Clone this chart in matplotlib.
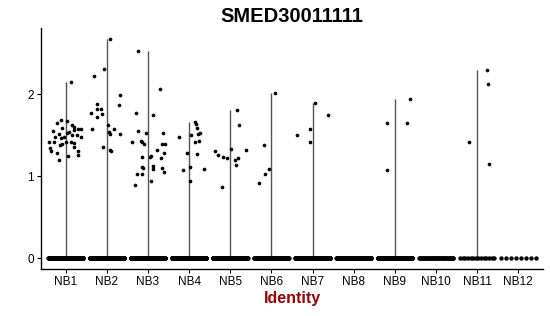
import matplotlib
matplotlib.use("Agg")
import matplotlib.pyplot as plt
import numpy as np

plt.rcParams['font.family'] = ['Liberation Sans', 'DejaVu Sans']

# Identities on the x axis
grupos = ['NB1', 'NB2', 'NB3', 'NB4', 'NB5', 'NB6', 'NB7', 'NB8', 'NB9', 'NB10', 'NB11', 'NB12']

# Expression values > 0, per identity
valores = {
    'NB1': [2.15, 1.68, 1.67, 1.65, 1.62, 1.60, 1.55, 1.58, 1.54, 1.53, 1.57, 1.57, 1.56,
            1.51, 1.50, 1.48, 1.50, 1.48, 1.46, 1.48, 1.41, 1.42, 1.39, 1.41, 1.42, 1.40,
            1.34, 1.31, 1.38, 1.31, 1.28, 1.24, 1.20, 1.26, 1.35],
    'NB2': [2.67, 2.30, 2.22, 1.99, 1.88, 1.87, 1.82, 1.82, 1.77, 1.76, 1.72, 1.62, 1.57,
            1.57, 1.54, 1.51, 1.51, 1.35, 1.32, 1.31],
    'NB3': [2.52, 2.06, 1.77, 1.74, 1.55, 1.53, 1.52, 1.41, 1.43, 1.41, 1.39, 1.39, 1.39,
            1.32, 1.23, 1.25, 1.23, 1.28, 1.22, 1.11, 1.10, 1.12, 1.09, 1.10, 1.05, 1.02,
            1.03, 0.94, 0.89],
    'NB4': [1.66, 1.63, 1.59, 1.50, 1.51, 1.52, 1.43, 1.41, 1.48, 1.28, 1.27, 1.11, 1.07,
            1.09, 0.94],
    'NB5': [1.80, 1.62, 1.31, 1.26, 1.23, 1.22, 1.33, 1.20, 1.22, 1.14, 1.32, 0.86],
    'NB6': [2.01, 1.38, 1.08, 1.02, 0.91],
    'NB7': [1.89, 1.74, 1.50, 1.57, 1.41],
    'NB8': [],
    'NB9': [1.94, 1.65, 1.65, 1.07],
    'NB10': [],
    'NB11': [2.29, 2.12, 1.41, 1.15],
    'NB12': [],
}

# Horizontal jitter of those points (in category units)
jitter = {
    'NB1': [0.12, -0.12, 0.04, -0.22, 0.16, 0.19, -0.30, -0.08, 0.07, 0.02, 0.29, 0.38, 0.19,
            -0.17, 0.28, 0.36, 0.16, -0.04, -0.12, -0.27, -0.41, -0.28, -0.10, 0.0, 0.12, 0.20,
            -0.38, -0.36, -0.14, 0.30, -0.20, 0.06, -0.16, 0.31, 0.20],
    'NB2': [0.07, -0.07, -0.32, 0.33, -0.25, 0.29, -0.23, -0.15, -0.39, -0.12, -0.23, 0.03, 0.18,
            -0.37, 0.06, 0.07, 0.32, -0.09, 0.08, 0.10],
    'NB3': [-0.25, 0.30, -0.30, 0.11, -0.25, -0.06, 0.36, -0.38, -0.17, -0.15, -0.10, 0.33, 0.41,
            0.21, -0.15, 0.07, 0.04, 0.40, 0.32, -0.14, -0.13, 0.11, 0.13, 0.35, 0.39, -0.26,
            -0.14, 0.07, -0.32],
    'NB4': [0.15, 0.16, 0.19, 0.05, 0.22, 0.27, 0.24, 0.14, -0.25, -0.04, 0.20, 0.03, -0.16,
            0.37, 0.03],
    'NB5': [0.17, 0.22, -0.38, -0.31, -0.18, -0.08, 0.02, 0.12, 0.19, 0.15, 0.39, -0.20],
    'NB6': [0.08, -0.19, -0.07, -0.15, -0.31],
    'NB7': [0.07, 0.37, -0.39, -0.06, -0.07],
    'NB8': [],
    'NB9': [0.36, -0.19, 0.30, -0.20],
    'NB10': [],
    'NB11': [0.24, 0.26, -0.19, 0.28],
    'NB12': [],
}

# Number of cells with zero expression
n_zeros = [300, 300, 300, 300, 300, 160, 300, 220, 220, 45, 14, 8]

fig = plt.figure(figsize=(5.5, 3.16), dpi=100)
ax = fig.add_axes([41 / 550, 1 - 269 / 316, 502 / 550, 241 / 316])

for i, g in enumerate(grupos):
    pos = i + 1
    vals = np.array(valores[g])
    # violin collapses to a thin line from 0 to the max
    if len(vals) > 0:
        ax.vlines(pos, 0, vals.max(), color='#555555', lw=1.0, zorder=1)
    zx = pos + np.linspace(-0.42, 0.42, n_zeros[i])
    ax.scatter(zx, np.zeros(n_zeros[i]), s=10, c='black', linewidths=0, zorder=2)
    if len(vals) > 0:
        ax.scatter(pos + np.array(jitter[g]), vals, s=7, c='black', linewidths=0, zorder=3)

ax.set_xlim(0.4, 12.6)
ax.set_ylim(-0.134, 2.805)
ax.set_xticks(range(1, len(grupos) + 1))
ax.set_xticklabels(grupos)
ax.set_yticks([0, 1, 2])
ax.tick_params(axis='both', length=3, width=0.8, labelsize=8.5, colors='black', pad=2)
for s in ['top', 'right']:
    ax.spines[s].set_visible(False)
for s in ['left', 'bottom']:
    ax.spines[s].set_linewidth(1.0)

ax.set_xlabel('Identity', fontsize=11.5, fontweight='bold', color='#990000', labelpad=2)
fig.text(292 / 550, 1 - 16 / 316, 'SMED30011111', ha='center', va='center',
         fontsize=14.5, fontweight='bold')

fig.savefig('out.png', dpi=100)
